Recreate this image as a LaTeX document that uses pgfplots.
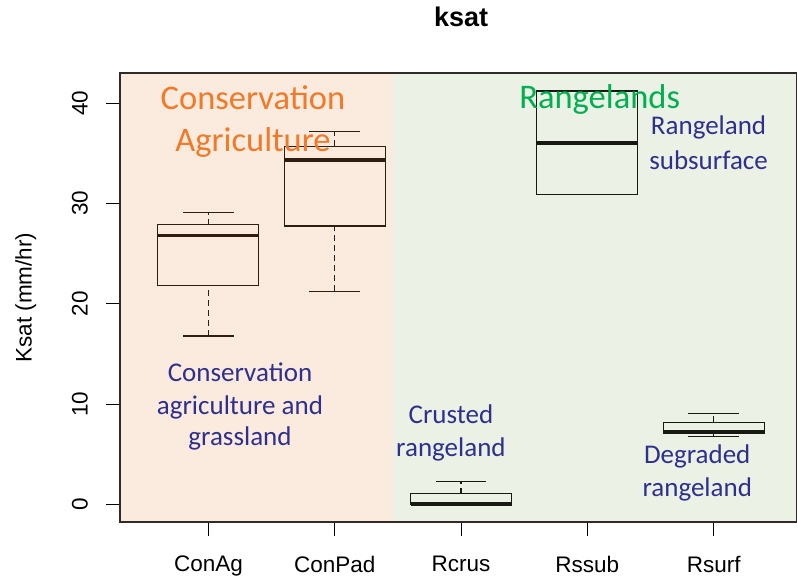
\documentclass[border=0pt]{standalone}
\usepackage{pgfplots}
\pgfplotsset{compat=1.18}
\usepgfplotslibrary{statistics}
\usepackage{fontspec}
\setmainfont{Liberation Sans}
\newfontfamily\calibri{Carlito}
\definecolor{peach}{RGB}{251,234,222}
\definecolor{sage}{RGB}{236,241,230}
\definecolor{caorange}{RGB}{240,122,40}
\definecolor{rgreen}{RGB}{0,176,80}
\definecolor{navy}{RGB}{46,48,140}
\definecolor{boxleft}{RGB}{45,30,20}
\definecolor{boxright}{RGB}{25,25,20}
\definecolor{frame}{RGB}{50,42,38}
\pgfplotsset{
  boxplot/draw/lower whisker/.code={%
    \draw[/pgfplots/boxplot/every whisker/.try, dash pattern=on 6bp off 4bp]
      (boxplot cs:\pgfplotsboxplotvalue{lower whisker}) --
      (boxplot cs:\pgfplotsboxplotvalue{lower quartile});
    \draw[/pgfplots/boxplot/every whisker/.try]
      (boxplot whisker cs:\pgfplotsboxplotvalue{lower whisker},0) --
      (boxplot whisker cs:\pgfplotsboxplotvalue{lower whisker},1);
  },
  boxplot/draw/upper whisker/.code={%
    \draw[/pgfplots/boxplot/every whisker/.try, dash pattern=on 6bp off 4bp]
      (boxplot cs:\pgfplotsboxplotvalue{upper quartile}) --
      (boxplot cs:\pgfplotsboxplotvalue{upper whisker});
    \draw[/pgfplots/boxplot/every whisker/.try]
      (boxplot whisker cs:\pgfplotsboxplotvalue{upper whisker},0) --
      (boxplot whisker cs:\pgfplotsboxplotvalue{upper whisker},1);
  },
  boxplot/every median/.style={line width=3.5bp},
  boxplot/draw direction=y,
  boxplot/box extend=0.8,
  boxplot/whisker extend=0.4,
}
\newcommand{\bigcal}{\calibri\fontsize{34.5bp}{42bp}\selectfont}
\newcommand{\smallcal}{\calibri\fontsize{27bp}{33bp}\selectfont}
\begin{document}
\begin{tikzpicture}
\begin{axis}[
  at={(0,0)}, anchor=south west,
  scale only axis, width=677bp, height=449bp,
  xmin=0.3, xmax=5.66, ymin=-1.73, ymax=42.99,
  xtick={1,2,3,4,5}, xticklabels={ConAg,ConPad,Rcrus,Rssub,Rsurf},
  ytick={0,10,20,30,40},
  tick align=outside, major tick length=14bp,
  xtick pos=bottom, ytick pos=left,
  axis line style={line width=1.1bp, frame},
  tick style={line width=1bp, black},
  ticklabel style={font=\fontsize{22.5bp}{26bp}\selectfont},
  /pgf/number format/assume math mode=true,
  yticklabel style={xshift=-18bp, rotate=90, anchor=south, inner sep=0pt},
  xticklabel style={yshift=-20bp, anchor=north, inner sep=0pt},
  ylabel={Ksat (mm/hr)},
  every axis y label/.style={at={(axis description cs:-0.139,0.5)}, rotate=90, anchor=center, font=\fontsize{22.5bp}{26bp}\selectfont},
  title={ksat},
  title style={at={(axis description cs:0.504,1.09)}, anchor=base, font=\bfseries\fontsize{27bp}{30bp}\selectfont},
  axis on top,
  clip=false,
]
% background regions
\addplot[fill=peach, draw=none] coordinates {(0.3,-1.73) (2.46,-1.73) (2.46,42.99) (0.3,42.99)} -- cycle;
\addplot[fill=sage, draw=none] coordinates {(2.46,-1.73) (5.66,-1.73) (5.66,42.99) (2.46,42.99)} -- cycle;
% boxplots
\addplot[boxleft, line width=1.1bp, boxplot prepared={lower whisker=16.8, lower quartile=21.85, median=26.8, upper quartile=27.9, upper whisker=29.1, draw position=1}] coordinates {};
\addplot[boxleft, line width=1.1bp, boxplot prepared={lower whisker=21.25, lower quartile=27.75, median=34.3, upper quartile=35.7, upper whisker=37.2, draw position=2}] coordinates {};
\addplot[boxright, line width=1.1bp, boxplot prepared={lower whisker=0, lower quartile=0, median=0.05, upper quartile=1.1, upper whisker=2.3, draw position=3}] coordinates {};
\addplot[boxright, line width=1.1bp, boxplot prepared={lower whisker=30.85, lower quartile=30.85, median=36.0, upper quartile=41.2, upper whisker=41.2, draw position=4}] coordinates {};
\addplot[boxright, line width=1.1bp, boxplot prepared={lower whisker=6.8, lower quartile=7.1, median=7.3, upper quartile=8.2, upper whisker=9.1, draw position=5}] coordinates {};
% annotations
\node[anchor=base, text=caorange, font=\bigcal] at (axis cs:1.353,39.38) {Conservation};
\node[anchor=base, text=caorange, font=\bigcal] at (axis cs:1.353,35.15) {Agriculture};
\node[anchor=base, text=rgreen, font=\bigcal] at (axis cs:4.098,39.41) {Rangelands};
\node[anchor=base, text=navy, font=\smallcal] at (axis cs:4.96,36.82) {Rangeland};
\node[anchor=base, text=navy, font=\smallcal] at (axis cs:4.96,33.4) {subsurface};
\node[anchor=base, text=navy, font=\smallcal] at (axis cs:1.25,12.24) {Conservation};
\node[anchor=base, text=navy, font=\smallcal] at (axis cs:1.25,9.0) {agriculture and};
\node[anchor=base, text=navy, font=\smallcal] at (axis cs:1.25,5.9) {grassland};
\node[anchor=base, text=navy, font=\smallcal] at (axis cs:2.92,8.1) {Crusted};
\node[anchor=base, text=navy, font=\smallcal] at (axis cs:2.92,4.78) {rangeland};
\node[anchor=base, text=navy, font=\smallcal] at (axis cs:4.87,4.12) {Degraded};
\node[anchor=base, text=navy, font=\smallcal] at (axis cs:4.87,0.8) {rangeland};
\end{axis}
\pgfresetboundingbox
\path[use as bounding box] (-120bp,-58bp) rectangle (677bp,522bp);
\end{tikzpicture}
\end{document}
